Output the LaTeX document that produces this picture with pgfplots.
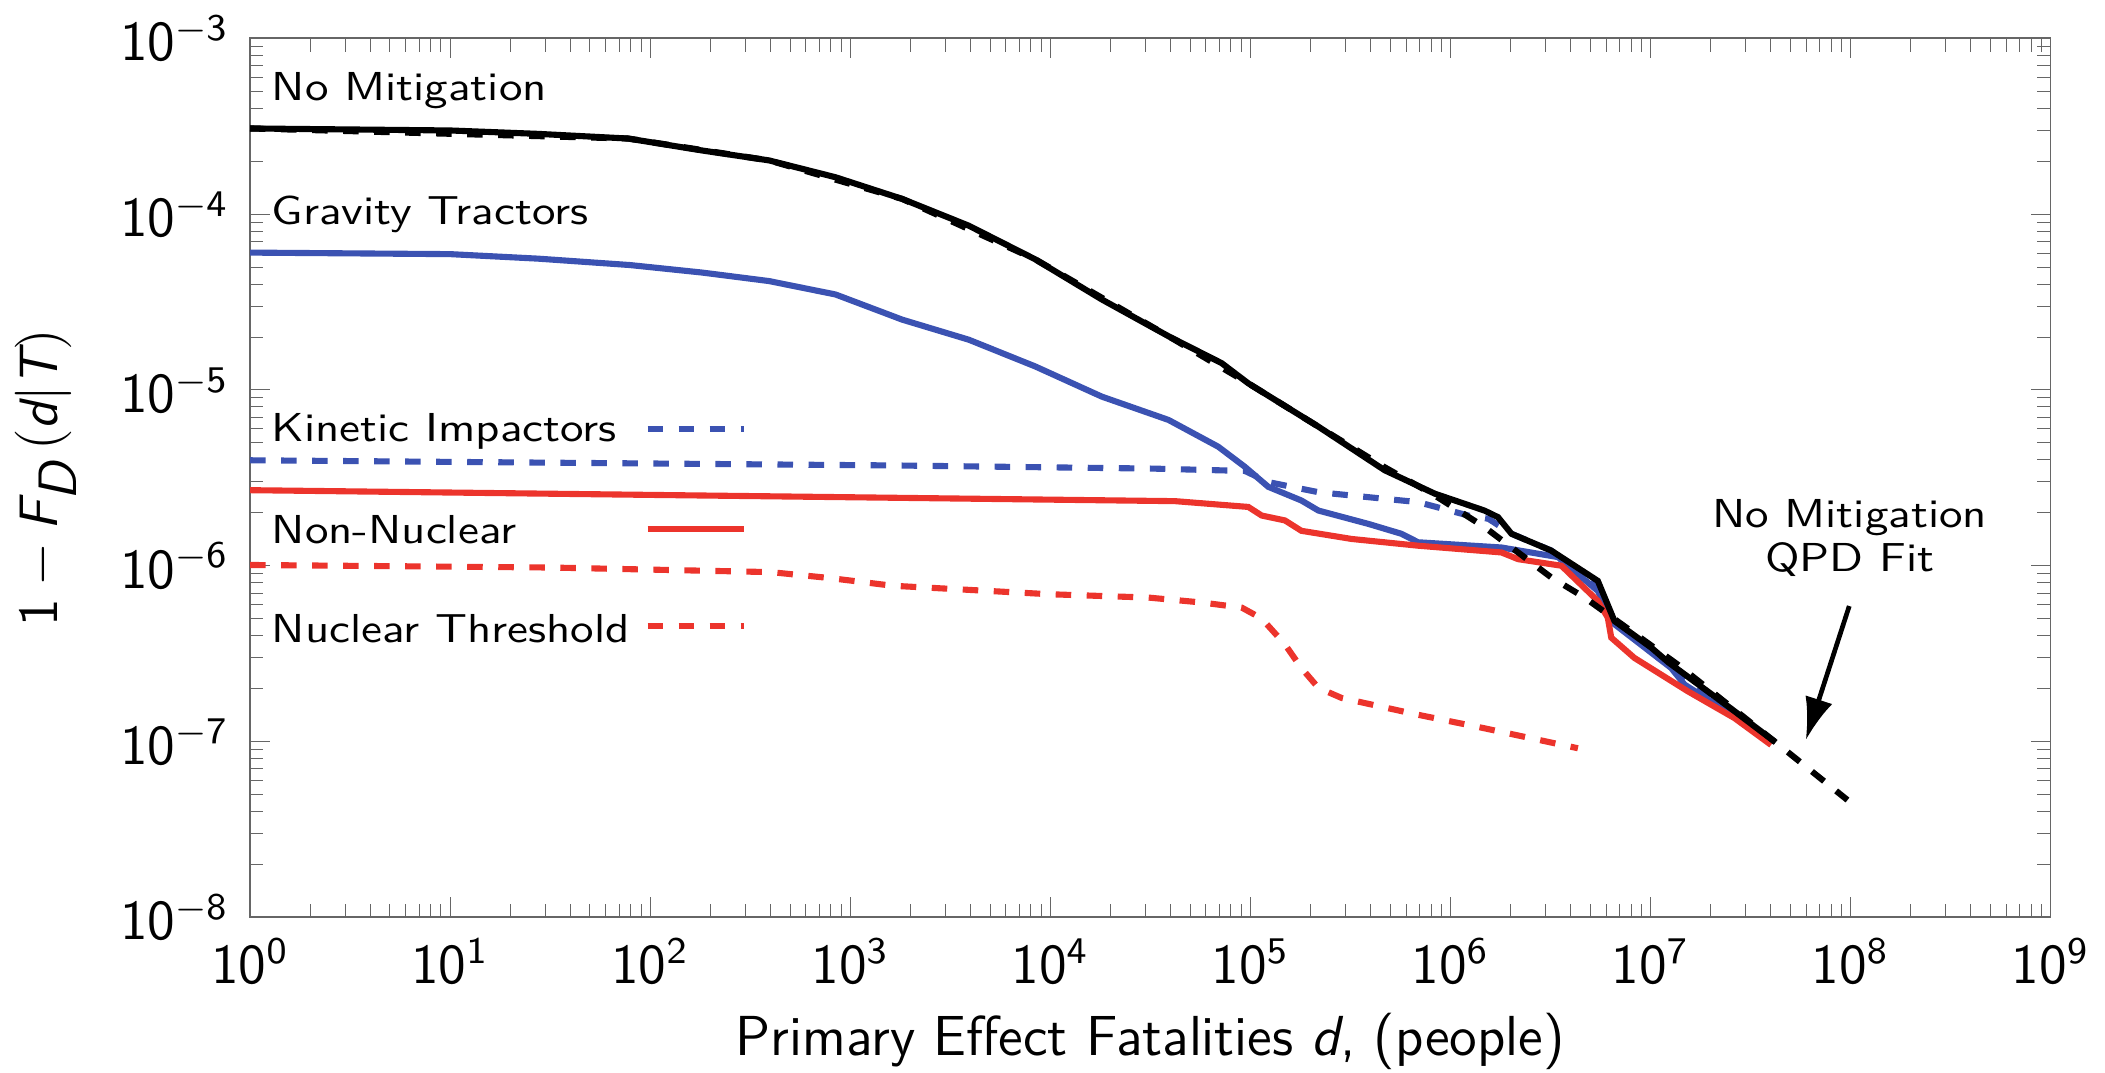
\documentclass[border=0pt]{standalone}
\usepackage{pgfplots}
\pgfplotsset{compat=1.18}
\usetikzlibrary{arrows.meta}
\renewcommand{\familydefault}{\sfdefault}
\definecolor{gtblue}{RGB}{59,82,178}
\definecolor{nnred}{RGB}{236,52,44}
% in-plot labels: a little flatter than the axis text
\newcommand{\lbl}[1]{\scalebox{1}[0.86]{#1}}

\begin{document}
\begin{tikzpicture}
\begin{axis}[
    scale only axis,
    width=383pt,
    height=187pt,
    xmode=log, ymode=log,
    log basis x=10, log basis y=10,
    xmin=1, xmax=1e9,
    ymin=1e-8, ymax=1e-3,
    xticklabel={$\mathsf{10^{\pgfmathprintnumber{\tick}}}$},
    yticklabel={$\mathsf{10^{\pgfmathprintnumber{\tick}}}$},
    ticklabel style={font=\fontsize{11.5}{13}\selectfont},
    xlabel style={font=\fontsize{12}{14}\selectfont, inner ysep=0.5pt},
    ylabel style={font=\fontsize{11.5}{14}\selectfont},
    xticklabel shift=1pt,
    yticklabel shift=1pt,
    xlabel shift=2.3pt,
    ylabel shift=2.5pt,
    xlabel={Primary Effect Fatalities \textit{d}, (people)},
    ylabel={$\mathsf{1}-\textit{F}_{\textit{D}}\,(\textit{d}|\textit{T})$},
    axis line style={gray!80!black},
    tick style={gray!80!black},
    every axis plot/.append style={line width=1.3pt},
    clip=false,
]

% kinetic impactors
\addplot[gtblue, dash pattern=on 3.3pt off 3.3pt] coordinates {
    (1,3.98e-6) (1622,3.72e-6) (3.21e4,3.57e-6) (9.40e4,3.46e-6)
    (1.23e5,2.99e-6) (2.19e5,2.62e-6) (6.90e5,2.30e-6) (1.23e6,1.93e-6)
    (1.55e6,1.85e-6) (2.02e6,1.52e-6) (3.19e6,1.22e-6) (5.46e6,7.94e-7)
    (6.61e6,4.79e-7) (1.26e7,2.63e-7) (4.17e7,1.0e-7)
};

% nuclear threshold
\addplot[nnred, dash pattern=on 3.3pt off 3.3pt] coordinates {
    (1,1.01e-6) (31.6,9.77e-7) (400,9.2e-7) (800,8.5e-7) (1622,7.7e-7)
    (9817,6.89e-7) (3.10e4,6.59e-7) (5.71e4,6.18e-7) (9.06e4,5.78e-7)
    (1.14e5,5.01e-7) (1.49e5,3.57e-7) (1.80e5,2.62e-7) (2.19e5,2.02e-7)
    (2.86e5,1.77e-7) (6.90e5,1.42e-7) (1.48e6,1.19e-7) (4.34e6,9.16e-8)
};

% gravity tractors
\addplot[gtblue] coordinates {
    (1,6.04e-5) (10,5.92e-5) (27.5,5.58e-5) (79.4,5.13e-5) (182,4.65e-5)
    (393,4.16e-5) (845,3.49e-5) (1820,2.51e-5) (3917,1.93e-5) (8414,1.36e-5)
    (1.81e4,9.16e-6) (3.90e4,6.75e-6) (6.92e4,4.75e-6) (9.40e4,3.65e-6)
    (1.23e5,2.81e-6) (1.80e5,2.35e-6) (2.19e5,2.06e-6) (3.89e5,1.73e-6)
    (5.69e5,1.52e-6) (6.90e5,1.36e-6) (1.80e6,1.27e-6) (3.45e6,1.12e-6)
    (5.46e6,7.19e-7) (6.61e6,4.65e-7) (1.27e7,2.62e-7) (1.48e7,2.11e-7)
    (4.17e7,1.0e-7)
};

% non-nuclear
\addplot[nnred] coordinates {
    (1,2.69e-6) (1445,2.44e-6) (4.21e4,2.33e-6) (9.77e4,2.16e-6)
    (1.14e5,1.93e-6) (1.49e5,1.81e-6) (1.80e5,1.58e-6) (3.21e5,1.42e-6)
    (6.90e5,1.30e-6) (1.80e6,1.19e-6) (2.18e6,1.09e-6) (3.59e6,1.0e-6)
    (5.46e6,6.31e-7) (6.12e6,5.07e-7) (6.37e6,3.90e-7) (8.32e6,2.99e-7)
    (1.54e7,1.93e-7) (2.63e7,1.36e-7) (4.01e7,9.57e-8)
};

% no mitigation
\addplot[black] coordinates {
    (1,3.07e-4) (10,2.99e-4) (27.5,2.86e-4) (77.6,2.69e-4) (182,2.30e-4)
    (393,2.02e-4) (845,1.62e-4) (1820,1.22e-4) (3917,8.59e-5) (8414,5.53e-5)
    (1.81e4,3.27e-5) (3.90e4,2.02e-5) (7.19e4,1.42e-5) (9.77e4,1.09e-5)
    (2.19e5,6.18e-6) (4.70e5,3.49e-6) (8.36e5,2.57e-6) (1.48e6,2.06e-6)
    (1.73e6,1.89e-6) (2.02e6,1.52e-6) (3.19e6,1.22e-6) (5.46e6,8.20e-7)
    (6.61e6,4.85e-7) (1.01e7,3.42e-7) (1.23e7,2.82e-7) (2.51e7,1.55e-7)
    (4.17e7,1.0e-7)
};

% no mitigation QPD fit
\addplot[black, dash pattern=on 3.3pt off 3.3pt] coordinates {
    (1,3.07e-4) (77.6,2.69e-4) (393,2.02e-4) (1820,1.22e-4) (8414,5.53e-5)
    (3.90e4,2.02e-5) (9.77e4,1.09e-5) (2.19e5,6.18e-6) (4.70e5,3.63e-6)
    (8.36e5,2.51e-6) (1.48e6,1.66e-6) (3.19e6,8.59e-7) (4.69e6,6.59e-7)
    (1.37e7,2.74e-7) (4.50e7,9.35e-8) (9.66e7,4.65e-8)
};

% legend samples
\addplot[gtblue, dash pattern=on 3.3pt off 3.3pt] coordinates {(97,5.97e-6) (296,5.97e-6)};
\addplot[nnred] coordinates {(97,1.62e-6) (296,1.62e-6)};
\addplot[nnred, dash pattern=on 3.3pt off 3.3pt] coordinates {(97,4.54e-7) (296,4.54e-7)};

\node[anchor=base west, inner sep=0pt] at (axis cs:1.27,4.45e-4) {\lbl{No Mitigation}};
\node[anchor=base west, inner sep=0pt] at (axis cs:1.27,8.77e-5) {\lbl{Gravity Tractors}};
\node[anchor=base west, inner sep=0pt] at (axis cs:1.27,5.07e-6) {\lbl{Kinetic Impactors}};
\node[anchor=base west, inner sep=0pt] at (axis cs:1.27,1.33e-6) {\lbl{Non-Nuclear}};
\node[anchor=base west, inner sep=0pt] at (axis cs:1.27,3.65e-7) {\lbl{Nuclear Threshold}};
\node[anchor=base, inner sep=0pt] at (axis cs:9.9e7,1.65e-6) {\lbl{No Mitigation}};
\node[anchor=base, inner sep=0pt] at (axis cs:9.9e7,9.3e-7) {\lbl{QPD Fit}};
\draw[-{Latex[length=9pt,width=6pt]}, line width=1pt] (axis cs:9.86e7,5.9e-7) -- (axis cs:5.98e7,1.02e-7);

\end{axis}
\end{tikzpicture}
\end{document}
